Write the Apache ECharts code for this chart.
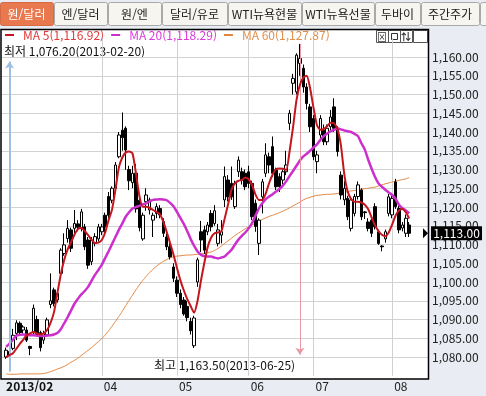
<!doctype html>
<html lang="ko">
<head>
<meta charset="UTF-8">
<title>원/달러</title>
<style>
  html, body { margin: 0; padding: 0; background: #e9ecf2; }
  #main { width: 486px; height: 396px; }
</style>
</head>
<body>
<div id="main"></div>
<script src="https://cdn.jsdelivr.net/npm/echarts@6/dist/echarts.min.js"></script>
<script>
// 거래일 (2013-02-19 ~ 2013-08-08)
const dates = [
  '2013-02-19','2013-02-20','2013-02-21','2013-02-22','2013-02-25','2013-02-26','2013-02-27','2013-02-28',
  '2013-03-04','2013-03-05','2013-03-06','2013-03-07','2013-03-08','2013-03-11','2013-03-12','2013-03-13','2013-03-14','2013-03-15',
  '2013-03-18','2013-03-19','2013-03-20','2013-03-21','2013-03-22','2013-03-25','2013-03-26','2013-03-27','2013-03-28','2013-03-29',
  '2013-04-01','2013-04-02','2013-04-03','2013-04-04','2013-04-05','2013-04-08','2013-04-09','2013-04-10','2013-04-11','2013-04-12',
  '2013-04-15','2013-04-16','2013-04-17','2013-04-18','2013-04-19','2013-04-22','2013-04-23','2013-04-24','2013-04-25','2013-04-26',
  '2013-04-29','2013-04-30',
  '2013-05-02','2013-05-03','2013-05-06','2013-05-07','2013-05-08','2013-05-09','2013-05-10','2013-05-13','2013-05-14','2013-05-15',
  '2013-05-16','2013-05-20','2013-05-21','2013-05-22','2013-05-23','2013-05-24','2013-05-27','2013-05-28','2013-05-29','2013-05-30','2013-05-31',
  '2013-06-03','2013-06-04','2013-06-05','2013-06-07','2013-06-10','2013-06-11','2013-06-12','2013-06-13','2013-06-14','2013-06-17',
  '2013-06-18','2013-06-19','2013-06-20','2013-06-21','2013-06-24','2013-06-25','2013-06-26','2013-06-27','2013-06-28',
  '2013-07-01','2013-07-02','2013-07-03','2013-07-04','2013-07-05','2013-07-08','2013-07-09','2013-07-10','2013-07-11','2013-07-12',
  '2013-07-15','2013-07-16','2013-07-17','2013-07-18','2013-07-19','2013-07-22','2013-07-23','2013-07-24','2013-07-25','2013-07-26',
  '2013-07-29','2013-07-30','2013-07-31',
  '2013-08-01','2013-08-02','2013-08-05','2013-08-06','2013-08-07','2013-08-08'
];
const opens = [
  1080.0,1081.5,1082.3,1086.3,1089.0,1087.2,1087.2,1082.8,1086.7,1090.0,
  1086.5,1084.5,1085.9,1094.0,1097.9,1095.2,1102.3,1107.6,1111.6,1113.9,
  1114.3,1115.5,1114.3,1114.7,1111.2,1105.4,1110.3,1111.5,1113.4,1117.8,
  1122.8,1121.8,1125.0,1133.4,1140.5,1141.0,1130.0,1126.5,1129.0,1121.8,
  1111.5,1121.4,1119.2,1116.5,1118.3,1119.6,1116.1,1112.0,1109.4,1104.0,
  1100.5,1097.0,1095.2,1093.5,1089.5,1083.0,1100.0,1113.4,1113.9,1113.4,
  1118.3,1115.6,1110.3,1112.5,1121.9,1127.2,1126.3,1120.1,1129.4,1129.4,
  1129.0,1129.4,1126.3,1121.0,1110.3,1122.7,1129.0,1133.4,1136.1,1129.9,
  1128.1,1127.2,1129.4,1142.3,1153.0,1150.7,1158.3,1157.0,1152.0,1146.7,
  1143.6,1132.1,1139.2,1140.5,1137.4,1141.4,1146.7,1140.5,1128.5,1121.9,
  1122.3,1114.3,1118.3,1122.8,1124.5,1118.7,1116.0,1116.5,1120.1,1113.4,
  1109.6,1111.5,1118.3,1117.9,1126.7,1119.6,1114.4,1113.0,1115.2
];
const closes = [
  1081.8,1080.5,1085.8,1089.1,1086.5,1088.0,1084.5,1082.3,1093.0,1086.0,
  1082.5,1086.3,1089.9,1095.0,1094.3,1097.0,1108.5,1109.9,1114.3,1109.0,
  1115.6,1114.6,1118.7,1109.4,1104.5,1111.2,1112.1,1114.7,1114.7,1114.7,
  1117.8,1125.0,1131.2,1139.2,1138.5,1135.2,1127.0,1129.0,1119.5,1114.5,
  1117.8,1123.2,1121.9,1117.8,1120.1,1117.9,1113.0,1109.4,1106.7,1101.0,
  1097.0,1094.0,1091.5,1090.5,1087.0,1090.4,1105.9,1111.2,1108.5,1115.2,
  1114.7,1119.0,1113.9,1113.4,1128.1,1122.7,1122.7,1126.3,1132.5,1127.2,
  1125.4,1126.3,1117.4,1114.8,1116.5,1126.7,1133.9,1131.2,1129.0,1125.4,
  1125.4,1129.4,1131.2,1145.0,1154.3,1160.5,1159.6,1152.0,1147.6,1141.4,
  1133.4,1133.9,1143.6,1137.4,1141.0,1144.0,1141.0,1134.8,1123.2,1125.0,
  1117.4,1121.9,1122.8,1125.9,1117.4,1118.5,1114.3,1113.0,1114.7,1110.3,
  1109.4,1113.4,1122.7,1122.3,1120.1,1113.9,1115.2,1117.0,1113.0
];
const lows = [
  1079.5,1076.2,1081.8,1084.5,1085.8,1086.3,1084.0,1080.5,1086.0,1085.5,
  1081.5,1083.5,1085.5,1093.0,1093.5,1094.5,1101.5,1107.0,1110.5,1108.0,
  1113.0,1113.5,1113.5,1108.5,1103.5,1104.5,1109.5,1110.8,1112.5,1113.0,
  1117.0,1121.0,1124.5,1133.0,1135.0,1129.9,1124.5,1125.0,1118.5,1113.5,
  1111.0,1119.0,1118.0,1112.0,1117.0,1117.0,1112.0,1108.5,1106.0,1100.0,
  1096.0,1093.0,1091.0,1089.5,1086.0,1082.4,1098.7,1108.0,1107.5,1112.5,
  1113.5,1115.0,1109.5,1110.3,1120.0,1121.5,1121.9,1119.5,1128.0,1126.0,
  1124.5,1125.0,1116.5,1113.4,1107.2,1118.3,1128.0,1129.0,1128.0,1124.5,
  1124.0,1126.0,1128.5,1140.5,1150.0,1150.0,1155.0,1150.5,1146.0,1140.0,
  1132.5,1129.0,1138.0,1136.5,1136.5,1140.5,1140.0,1133.5,1122.0,1120.5,
  1116.5,1113.5,1117.5,1122.0,1116.5,1116.8,1113.5,1112.0,1114.0,1109.9,
  1108.2,1110.5,1117.5,1117.0,1119.5,1113.0,1113.5,1112.0,1112.0
];
const highs = [
  1082.5,1082.0,1087.5,1089.8,1089.5,1088.5,1088.0,1083.0,1094.0,1091.0,
  1087.0,1087.0,1090.5,1102.3,1098.5,1098.0,1109.0,1113.0,1116.5,1114.5,
  1119.2,1116.5,1119.5,1115.5,1112.0,1112.0,1113.0,1115.5,1115.5,1118.5,
  1124.0,1125.5,1132.0,1140.0,1145.2,1141.5,1131.0,1131.0,1131.5,1122.5,
  1118.5,1125.0,1122.5,1118.5,1121.0,1120.5,1117.0,1113.0,1110.5,1105.0,
  1101.5,1098.0,1096.0,1095.0,1090.5,1091.0,1106.5,1116.3,1115.0,1116.0,
  1119.2,1120.5,1115.5,1116.5,1130.8,1128.5,1130.8,1127.0,1133.5,1130.5,
  1130.0,1131.0,1127.0,1122.0,1117.0,1127.5,1137.0,1134.5,1138.8,1130.5,
  1129.0,1130.0,1135.0,1145.9,1155.5,1161.0,1163.5,1158.0,1153.0,1147.5,
  1144.5,1135.0,1144.5,1142.0,1142.0,1145.9,1149.0,1141.5,1129.5,1127.0,
  1123.0,1122.5,1123.5,1126.8,1125.0,1118.9,1117.0,1117.0,1121.0,1114.0,
  1109.8,1114.0,1123.5,1123.0,1127.5,1120.5,1116.0,1118.0,1116.0
];
// 이동평균
const ma5 = [
  1080.0,1080.5,1081.0,1082.2,1083.5,1084.6,1085.8,1086.3,1086.7,1086.3,
  1086.0,1086.3,1087.2,1089.1,1091.9,1097.0,1102.0,1105.9,1108.7,1110.6,
  1112.6,1114.1,1114.4,1113.6,1112.5,1111.3,1110.4,1110.5,1111.2,1113.2,
  1116.5,1119.3,1124.6,1130.5,1133.2,1134.5,1134.8,1134.3,1129.0,1123.0,
  1120.1,1120.1,1119.8,1119.2,1118.7,1118.1,1116.1,1113.4,1110.4,1107.3,
  1103.8,1100.5,1097.8,1095.5,1093.6,1091.8,1094.8,1100.2,1105.0,1109.3,
  1111.8,1113.0,1113.2,1113.5,1117.0,1120.8,1124.7,1126.3,1127.0,1127.2,
  1127.9,1127.4,1125.8,1123.3,1121.9,1121.9,1123.6,1126.4,1128.6,1130.1,
  1130.3,1130.2,1129.9,1135.0,1141.3,1148.5,1152.6,1154.5,1155.0,1151.6,
  1146.4,1141.8,1140.6,1140.8,1141.6,1142.5,1142.3,1140.8,1136.5,1128.7,
  1124.1,1122.1,1121.4,1121.4,1121.2,1120.6,1119.4,1117.2,1115.1,1113.6,
  1112.6,1112.2,1113.2,1115.3,1117.7,1119.1,1119.5,1118.6,1116.92
];
const ma20 = [
  1082.7,1083.6,1084.6,1085.7,1085.9,1086.0,1085.9,1085.8,1085.8,1085.7,
  1085.6,1085.6,1085.7,1085.8,1086.0,1086.4,1087.4,1089.0,1090.6,1092.4,
  1094.2,1095.5,1096.7,1097.6,1098.7,1100.3,1101.9,1103.2,1104.6,1106.4,
  1108.2,1110.1,1112.0,1113.9,1115.6,1117.4,1118.6,1119.6,1120.0,1120.3,
  1120.7,1121.0,1121.5,1121.9,1122.0,1122.1,1122.0,1121.8,1121.1,1120.2,
  1118.7,1117.1,1115.5,1113.6,1111.5,1109.7,1108.2,1107.3,1106.9,1106.8,
  1106.8,1106.5,1106.3,1106.5,1106.8,1107.7,1108.6,1110.0,1111.3,1112.3,
  1113.2,1114.3,1115.7,1117.7,1119.6,1121.0,1122.1,1122.8,1123.4,1124.1,
  1124.8,1125.7,1126.9,1128.3,1129.6,1131.0,1132.4,1133.5,1134.2,1135.0,
  1135.9,1136.7,1137.9,1138.9,1139.6,1140.2,1140.6,1141.0,1140.7,1140.4,
  1140.2,1140.0,1139.5,1138.9,1137.0,1135.3,1132.6,1130.2,1128.0,1126.3,
  1125.4,1124.6,1123.9,1123.2,1122.2,1120.6,1119.7,1119.1,1118.29
];
const ma60 = [
  1075.5,1075.4,1075.4,1075.4,1075.5,1075.5,1075.5,1075.5,1075.5,1075.5,
  1075.5,1075.6,1075.8,1076.1,1076.4,1076.8,1077.1,1077.5,1078.0,1078.6,
  1079.1,1079.7,1080.4,1081.1,1081.8,1082.5,1083.3,1084.1,1084.9,1085.9,
  1087.0,1088.2,1089.5,1090.8,1092.2,1093.7,1095.1,1096.5,1097.9,1099.2,
  1100.4,1101.5,1102.5,1103.4,1104.2,1104.9,1105.5,1106.0,1106.4,1106.7,
  1106.9,1107.0,1107.1,1107.2,1107.2,1107.3,1107.4,1107.5,1107.6,1107.8,
  1108.0,1108.4,1108.9,1109.6,1110.3,1111.0,1111.7,1112.4,1113.0,1113.6,
  1114.2,1114.7,1115.2,1115.7,1116.2,1116.7,1117.1,1117.5,1117.8,1118.1,
  1118.5,1118.9,1119.3,1119.8,1120.3,1120.8,1121.3,1121.9,1122.3,1122.6,
  1122.9,1123.1,1123.2,1123.3,1123.4,1123.4,1123.5,1123.6,1123.8,1123.9,
  1124.1,1124.3,1124.4,1124.5,1124.7,1124.9,1125.0,1125.2,1125.3,1125.6,
  1125.9,1126.2,1126.4,1126.7,1126.9,1127.1,1127.3,1127.5,1127.87
];
// 월 시작일 (x축 라벨)
const monthStarts = ['2013-02-19','2013-04-01','2013-05-02','2013-06-03','2013-07-01','2013-08-01'];
const lowPoint = { date: '2013-02-20', value: 1076.20 };
const highPoint = { date: '2013-06-25', value: 1163.50 };
const tabs = ['원/달러','엔/달러','원/엔','달러/유로','WTI뉴욕현물','WTI뉴욕선물','두바이','주간주가',''];

const FONT = '"Noto Sans CJK KR", "DejaVu Sans", sans-serif';
const fmt = v => v.toLocaleString('en-US', { minimumFractionDigits: 2, maximumFractionDigits: 2 });

// 좌우 여백용 빈 카테고리
const PAD_R = 5;
const cats = ['pad_l'].concat(dates);
for (let i = 0; i < PAD_R; i++) cats.push('pad_r' + i);
const pad = arr => [null].concat(arr, Array(PAD_R).fill(null));

const candles = ['-'];
for (let i = 0; i < dates.length; i++) candles.push([opens[i], closes[i], lows[i], highs[i]]);
for (let i = 0; i < PAD_R; i++) candles.push('-');

const maList = { 'MA 5': ma5, 'MA 20': ma20, 'MA 60': ma60 };

// 상단 탭
const tabEdges = [0, 54, 108, 162, 228, 302, 375, 421, 480, 492];
const tabGraphics = [];
tabs.forEach((t, i) => {
  const x0 = tabEdges[i], x1 = tabEdges[i + 1] - 1;
  const sel = i === 0;
  tabGraphics.push({
    type: 'rect', shape: { x: x0 + 0.5, y: 2.5, width: x1 - x0, height: 23, r: 2 },
    style: { fill: sel ? '#e8794f' : '#f6f5f0', stroke: sel ? '#d56a44' : '#a9a9a9', lineWidth: 1 }
  });
  tabGraphics.push({
    type: 'text', x: (x0 + x1) / 2, y: 14,
    style: { text: t, fill: sel ? '#fff' : '#222', font: '12px ' + FONT, align: 'center', verticalAlign: 'middle' }
  });
});

// 우측 상단 아이콘
const iconGraphics = [];
[376, 388, 400, 413].forEach((x, i) => {
  iconGraphics.push({
    type: 'rect', shape: { x: x + 0.5, y: 30.5, width: i === 3 ? 14 : 12, height: 12 },
    style: { fill: '#fff', stroke: '#555', lineWidth: 1 }
  });
});
iconGraphics.push({ type: 'text', x: 382, y: 37, style: { text: '⊠', fill: '#333', font: '10px ' + FONT, align: 'center', verticalAlign: 'middle' } });
iconGraphics.push({ type: 'rect', shape: { x: 391.5, y: 33.5, width: 6, height: 6 }, style: { fill: '#fff', stroke: '#333' } });
iconGraphics.push({ type: 'text', x: 406, y: 37, style: { text: '⇅', fill: '#333', font: 'bold 10px ' + FONT, align: 'center', verticalAlign: 'middle' } });

const chart = echarts.init(document.getElementById('main'));
const option = {
  animation: false,
  backgroundColor: '#e9ecf2',
  grid: { left: 1, right: 58, top: 38.25, bottom: 20.25 },
  legend: {
    left: 5, top: 29, padding: 0, itemGap: 7,
    icon: 'rect', itemWidth: 9, itemHeight: 2,
    data: [
      { name: 'MA 5', textStyle: { color: '#e23a3a' } },
      { name: 'MA 20', textStyle: { color: '#dc3adc' } },
      { name: 'MA 60', textStyle: { color: '#e0904c' } }
    ],
    textStyle: { fontFamily: FONT, fontSize: 12, padding: [0, 0, 0, 4] },
    formatter: name => name + '(' + fmt(maList[name][maList[name].length - 1]) + ')'
  },
  xAxis: {
    type: 'category', data: cats, boundaryGap: true,
    axisLine: { show: false }, axisTick: { show: false },
    axisLabel: {
      interval: (i, v) => monthStarts.includes(v),
      margin: 5, align: 'left',
      formatter: v => v === monthStarts[0] ? '{b|' + v.slice(0, 4) + '/' + v.slice(5, 7) + '}' : '{m|' + v.slice(5, 7) + '}',
      rich: {
        b: { fontFamily: FONT, fontSize: 12, fontWeight: 'bold', color: '#111' },
        m: { fontFamily: FONT, fontSize: 12, color: '#222', padding: [0, 0, 0, 2] }
      }
    },
    splitLine: {
      show: true, alignWithLabel: true,
      interval: (i, v) => monthStarts.indexOf(v) > 0,
      lineStyle: { color: '#cfcfd4', width: 1 }
    }
  },
  yAxis: {
    type: 'value', position: 'right', min: 1075, max: 1165, interval: 5,
    axisLine: { show: false }, axisTick: { show: false },
    axisLabel: {
      showMinLabel: false, showMaxLabel: false, margin: 4,
      fontFamily: FONT, fontSize: 12, color: '#222',
      formatter: v => fmt(v)
    },
    splitLine: { show: true, showMinLine: false, showMaxLine: false, lineStyle: { color: '#d2d2d2', width: 1 } }
  },
  series: [
    {
      name: '원/달러', type: 'candlestick', data: candles, barWidth: 3,
      itemStyle: { color: '#fff', color0: '#000', borderColor: '#000', borderColor0: '#000', borderWidth: 1 },
      markLine: {
        silent: true, symbol: ['none', 'arrow'], symbolSize: 7,
        label: { show: false },
        data: [
          [
            { coord: [lowPoint.date, lowPoint.value], lineStyle: { color: '#9fc0e0', width: 2, type: 'solid' } },
            { coord: [lowPoint.date, 1158.8] }
          ],
          [
            { coord: [highPoint.date, highPoint.value], lineStyle: { color: '#e79aa6', width: 1, type: 'solid' } },
            { coord: [highPoint.date, 1080.6] }
          ]
        ]
      },
      z: 3
    },
    { name: 'MA 60', type: 'line', data: pad(ma60), showSymbol: false, smooth: 0.2, lineStyle: { color: '#e38640', width: 1 }, itemStyle: { color: '#e38640' }, z: 2 },
    { name: 'MA 20', type: 'line', data: pad(ma20), showSymbol: false, smooth: 0.2, lineStyle: { color: '#cc2fcc', width: 2.5 }, itemStyle: { color: '#cc2fcc' }, z: 4 },
    { name: 'MA 5', type: 'line', data: pad(ma5), showSymbol: false, smooth: 0.2, lineStyle: { color: '#c4161e', width: 2 }, itemStyle: { color: '#c4161e' }, z: 5 }
  ],
  graphic: [
    { id: 'plotbg', type: 'rect', z: -100, shape: { x: 1, y: 29, width: 428, height: 350 }, style: { fill: '#fff' } },
    { id: 'frame', type: 'rect', z: 100, shape: { x: 1, y: 29.5, width: 427.5, height: 349.5 }, style: { fill: null, stroke: '#000', lineWidth: 1.5 } },
    { id: 'tabs', type: 'group', children: tabGraphics },
    { id: 'icons', type: 'group', z: 101, children: iconGraphics },
    {
      id: 'lowText', type: 'text', x: 4, y: 51,
      style: { text: '최저 ' + fmt(lowPoint.value) + '(' + lowPoint.date + ')', fill: '#111', font: '12px ' + FONT, verticalAlign: 'middle' }
    },
    {
      id: 'highText', type: 'text', x: 154, y: 365,
      style: { text: '최고 ' + fmt(highPoint.value) + '(' + highPoint.date + ')', fill: '#111', font: '12px ' + FONT, verticalAlign: 'middle' }
    }
  ]
};
chart.setOption(option);

// 현재가 표시 (오른쪽 축)
const last = closes[closes.length - 1];
const py = chart.convertToPixel({ yAxisIndex: 0 }, last);
chart.setOption({
  graphic: [
    { id: 'ptri', type: 'polygon', z: 102, shape: { points: [[423, py - 5], [428, py], [423, py + 5]] }, style: { fill: '#000' } },
    { id: 'pbox', type: 'rect', z: 102, shape: { x: 431, y: py - 7, width: 51, height: 14 }, style: { fill: '#000' } },
    { id: 'ptxt', type: 'text', z: 103, x: 456.5, y: py, style: { text: fmt(last), fill: '#fff', font: '12px ' + FONT, align: 'center', verticalAlign: 'middle' } }
  ]
});
</script>
</body>
</html>
